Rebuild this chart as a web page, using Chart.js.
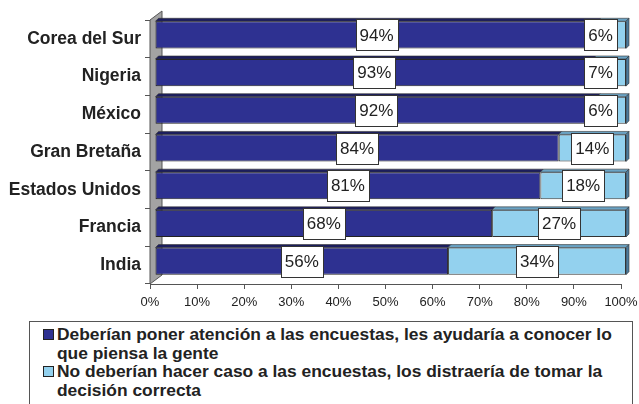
<!DOCTYPE html>
<html>
<head>
<meta charset="utf-8">
<script src="https://cdn.jsdelivr.net/npm/chart.js@4/dist/chart.umd.min.js"></script>
<style>
  html, body { margin: 0; padding: 0; background: #fff; }
  #wrap { position: relative; width: 639px; height: 404px; overflow: hidden; }
  #chartBox { position: absolute; left: 0; top: 0; width: 639px; height: 318px; }
  #leyenda {
    position: absolute; left: 29px; top: 321px; width: 604px; height: 100px;
    border: 1px solid #555; box-sizing: border-box; padding: 3px 0 0 13px;
    font-family: "Liberation Sans", Arial, sans-serif; font-weight: bold;
    font-size: 17.4px; line-height: 18.7px; color: #222;
  }
  .item { display: flex; align-items: flex-start; width: 590px; }
  .item span.txt { width: 573px; }
  .cuadro { flex: 0 0 auto; width: 9px; height: 9px; border: 1px solid #222; margin: 4px 3px 0 0; }
</style>
</head>
<body>
<div id="wrap">
  <div id="chartBox"><canvas id="encuestasChart"></canvas></div>
  <div id="leyenda"></div>
</div>
<script>
/* =========================================
   Datos
   ========================================= */
var paises = ['Corea del Sur', 'Nigeria', 'México', 'Gran Bretaña', 'Estados Unidos', 'Francia', 'India'];
var deberianPoner = [94, 93, 92, 84, 81, 68, 56];
var noDeberian = [6, 7, 6, 14, 18, 27, 34];
var serieNombres = [
    'Deberían poner atención a las encuestas, les ayudaría a conocer lo que piensa la gente',
    'No deberían hacer caso a las encuestas, los distraería de tomar la decisión correcta'
];
var colores = ['#2e3191', '#93d1ee'];
var coloresTapa = ['#1c1e5e', '#6aa3c4'];
var ticksX = [0, 10, 20, 30, 40, 50, 60, 70, 80, 90, 100];

// barras al 100% (apiladas), etiqueta con el valor original
var totales = deberianPoner.map(function(v, i) { return v + noDeberian[i]; });
var pct1 = deberianPoner.map(function(v, i) { return v / totales[i] * 100; });
var pct2 = noDeberian.map(function(v, i) { return v / totales[i] * 100; });

var DX = 5, DY = -4; // desplazamiento "3D" de las barras

var efecto3d = {
    id: 'efecto3d',
    beforeDatasetsDraw: function(chart) {
        var ctx = chart.ctx, a = chart.chartArea;
        // pared gris del fondo
        ctx.save();
        ctx.beginPath();
        ctx.moveTo(a.left, a.bottom);
        ctx.lineTo(a.left, a.top);
        ctx.lineTo(a.left + 12, a.top - 9);
        ctx.lineTo(a.left + 12, a.bottom - 9);
        ctx.closePath();
        ctx.fillStyle = '#a3a3a3';
        ctx.fill();
        ctx.strokeStyle = '#555';
        ctx.lineWidth = 1;
        ctx.stroke();
        ctx.restore();
        ctx.save();
        ctx.translate(DX, DY);
    },
    afterDatasetsDraw: function(chart) {
        var ctx = chart.ctx;
        chart.data.datasets.forEach(function(ds, di) {
            chart.getDatasetMeta(di).data.forEach(function(bar) {
                var top = bar.y - bar.height / 2, bot = bar.y + bar.height / 2;
                ctx.beginPath();
                ctx.moveTo(bar.base, top);
                ctx.lineTo(bar.x, top);
                ctx.lineTo(bar.x + 3, top - 3);
                ctx.lineTo(bar.base + 3, top - 3);
                ctx.closePath();
                ctx.fillStyle = coloresTapa[di];
                ctx.fill();
                ctx.strokeStyle = '#333';
                ctx.lineWidth = 0.6;
                ctx.stroke();
                if (di === chart.data.datasets.length - 1) {
                    ctx.beginPath();
                    ctx.moveTo(bar.x, top);
                    ctx.lineTo(bar.x + 3, top - 3);
                    ctx.lineTo(bar.x + 3, bot - 3);
                    ctx.lineTo(bar.x, bot);
                    ctx.closePath();
                    ctx.fillStyle = '#4d7b9c';
                    ctx.fill();
                    ctx.stroke();
                }
            });
        });
        ctx.restore();

        // etiquetas con recuadro blanco
        var valores = [deberianPoner, noDeberian];
        ctx.save();
        ctx.font = '17px "Liberation Sans", Arial, sans-serif';
        ctx.textAlign = 'center';
        ctx.textBaseline = 'middle';
        chart.data.datasets.forEach(function(ds, di) {
            chart.getDatasetMeta(di).data.forEach(function(bar, i) {
                var txt = valores[di][i] + '%';
                var w = Math.round(ctx.measureText(txt).width + 8), h = 31;
                var cx = (bar.x + bar.base) / 2 + DX;
                var cy = bar.y + DY;
                var fin = chart.scales.x.right + DX;
                if (cx + w / 2 > fin - 9) cx = fin - 9 - w / 2;
                var bx = Math.round(cx - w / 2) + 0.5, by = Math.round(cy - h / 2) + 0.5;
                ctx.fillStyle = '#fff';
                ctx.fillRect(bx, by, w, h);
                ctx.strokeStyle = '#333';
                ctx.lineWidth = 1;
                ctx.strokeRect(bx, by, w, h);
                ctx.fillStyle = '#222';
                ctx.fillText(txt, cx, cy + 1);
            });
        });
        ctx.restore();
    }
};

var ctx = document.getElementById('encuestasChart').getContext('2d');
var encuestasChart = new Chart(ctx, {
    type: 'bar',
    data: {
        labels: paises,
        datasets: [{
            label: serieNombres[0],
            data: pct1,
            backgroundColor: colores[0],
            borderColor: '#222',
            borderWidth: 1,
            borderSkipped: false
        }, {
            label: serieNombres[1],
            data: pct2,
            backgroundColor: colores[1],
            borderColor: '#333',
            borderWidth: 1,
            borderSkipped: false
        }]
    },
    options: {
        indexAxis: 'y',
        responsive: true,
        maintainAspectRatio: false,
        animation: false,
        layout: { padding: { top: 20, right: 18, left: 0, bottom: 0 } },
        datasets: { bar: { categoryPercentage: 1, barPercentage: 0.72 } },
        plugins: {
            legend: { display: false },
            tooltip: { enabled: false }
        },
        scales: {
            x: {
                stacked: true,
                min: 0,
                max: 100,
                afterBuildTicks: function(scale) {
                    scale.ticks = ticksX.map(function(v) { return { value: v }; });
                },
                afterFit: function(scale) {
                    scale.height = 34;
                    scale.paddingLeft = 0;
                    scale.paddingRight = 0;
                },
                grid: { drawOnChartArea: false, tickLength: 5, color: '#555' },
                border: { color: '#555' },
                ticks: {
                    padding: 6,
                    color: '#222',
                    font: { family: '"Liberation Sans", Arial, sans-serif', size: 13 },
                    callback: function(v) { return v + '%'; }
                }
            },
            y: {
                stacked: true,
                afterFit: function(scale) { scale.width = 150; },
                grid: { offset: true, drawOnChartArea: false, tickLength: 5, color: '#555' },
                border: { color: '#555' },
                ticks: {
                    padding: 4,
                    color: '#222',
                    font: { family: '"Liberation Sans", Arial, sans-serif', size: 17.5, weight: 'bold' }
                }
            }
        }
    },
    plugins: [efecto3d]
});

// leyenda (texto en varias líneas como en el original)
var leyenda = document.getElementById('leyenda');
encuestasChart.data.datasets.forEach(function(ds, i) {
    var item = document.createElement('div');
    item.className = 'item';
    var c = document.createElement('span');
    c.className = 'cuadro';
    c.style.background = colores[i];
    var t = document.createElement('span');
    t.className = 'txt';
    t.textContent = ds.label;
    item.appendChild(c);
    item.appendChild(t);
    leyenda.appendChild(item);
});
</script>
</body>
</html>
